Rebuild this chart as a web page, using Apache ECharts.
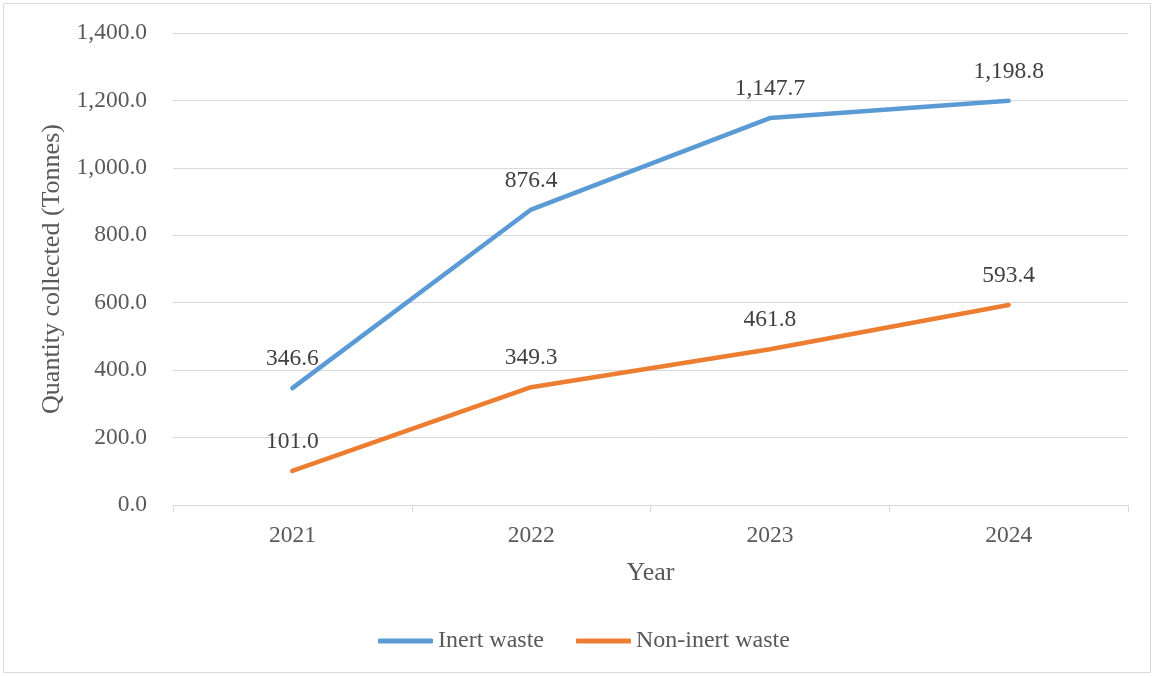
<!DOCTYPE html>
<html>
<head>
<meta charset="utf-8">
<script src="https://cdn.jsdelivr.net/npm/echarts@6/dist/echarts.min.js"></script>
<style>
  html, body { margin: 0; padding: 0; background: #fff; }
  #chart { width: 1154px; height: 676px; }
</style>
</head>
<body>
<div id="chart"></div>
<script>
// Waste collected per year, in tonnes
const years = ['2021', '2022', '2023', '2024'];
const inertWaste = [346.6, 876.4, 1147.7, 1198.8];
const nonInertWaste = [101.0, 349.3, 461.8, 593.4];
const seriesNames = ['Inert waste', 'Non-inert waste'];

const FONT = '"Liberation Serif", "Times New Roman", serif';
const fmt = v => v.toLocaleString('en-US', { minimumFractionDigits: 1, maximumFractionDigits: 1 });

const chart = echarts.init(document.getElementById('chart'));

function lineSeries(name, data, color) {
  return {
    name: name,
    type: 'line',
    data: data,
    symbol: 'circle',
    symbolSize: 0,
    showSymbol: true,
    lineStyle: { width: 4.5, color: color, cap: 'round', join: 'round' },
    itemStyle: { color: color },
    label: {
      show: true,
      position: 'top',
      distance: 17,
      fontFamily: FONT,
      fontSize: 23.5,
      color: '#404040',
      formatter: p => fmt(p.value)
    }
  };
}

chart.setOption({
  animation: false,
  textStyle: { fontFamily: FONT },
  graphic: [{
    type: 'rect',
    shape: { x: 3.5, y: 3.5, width: 1147, height: 669 },
    style: { fill: 'none', stroke: '#d9d9d9', lineWidth: 1 },
    silent: true
  }],
  grid: { left: 173, right: 26, top: 33, bottom: 171 },
  legend: {
    top: 624,
    left: 373,
    itemWidth: 55,
    itemHeight: 5,
    itemGap: 32,
    icon: 'roundRect',
    textStyle: { fontFamily: FONT, fontSize: 24, color: '#595959', padding: [0, 0, 0, 0] },
    data: seriesNames
  },
  xAxis: {
    type: 'category',
    data: years,
    boundaryGap: true,
    name: 'Year',
    nameLocation: 'middle',
    nameGap: 55,
    nameTextStyle: { fontFamily: FONT, fontSize: 26, color: '#595959' },
    axisLine: { lineStyle: { color: '#d9d9d9', width: 1 } },
    axisTick: { show: true, length: 7, lineStyle: { color: '#d9d9d9' } },
    axisLabel: { fontFamily: FONT, fontSize: 23.5, color: '#595959', margin: 19 }
  },
  yAxis: {
    type: 'value',
    min: 0,
    max: 1400,
    interval: 200,
    name: 'Quantity collected (Tonnes)',
    nameLocation: 'middle',
    nameGap: 105,
    nameTextStyle: { fontFamily: FONT, fontSize: 26, color: '#595959' },
    axisLine: { show: false },
    axisTick: { show: false },
    splitLine: { lineStyle: { color: '#d9d9d9', width: 1 } },
    axisLabel: { fontFamily: FONT, fontSize: 23.5, color: '#595959', margin: 26, formatter: v => fmt(v) }
  },
  series: [
    lineSeries(seriesNames[0], inertWaste, '#5b9bd5'),
    lineSeries(seriesNames[1], nonInertWaste, '#ed7d31')
  ]
});
</script>
</body>
</html>
